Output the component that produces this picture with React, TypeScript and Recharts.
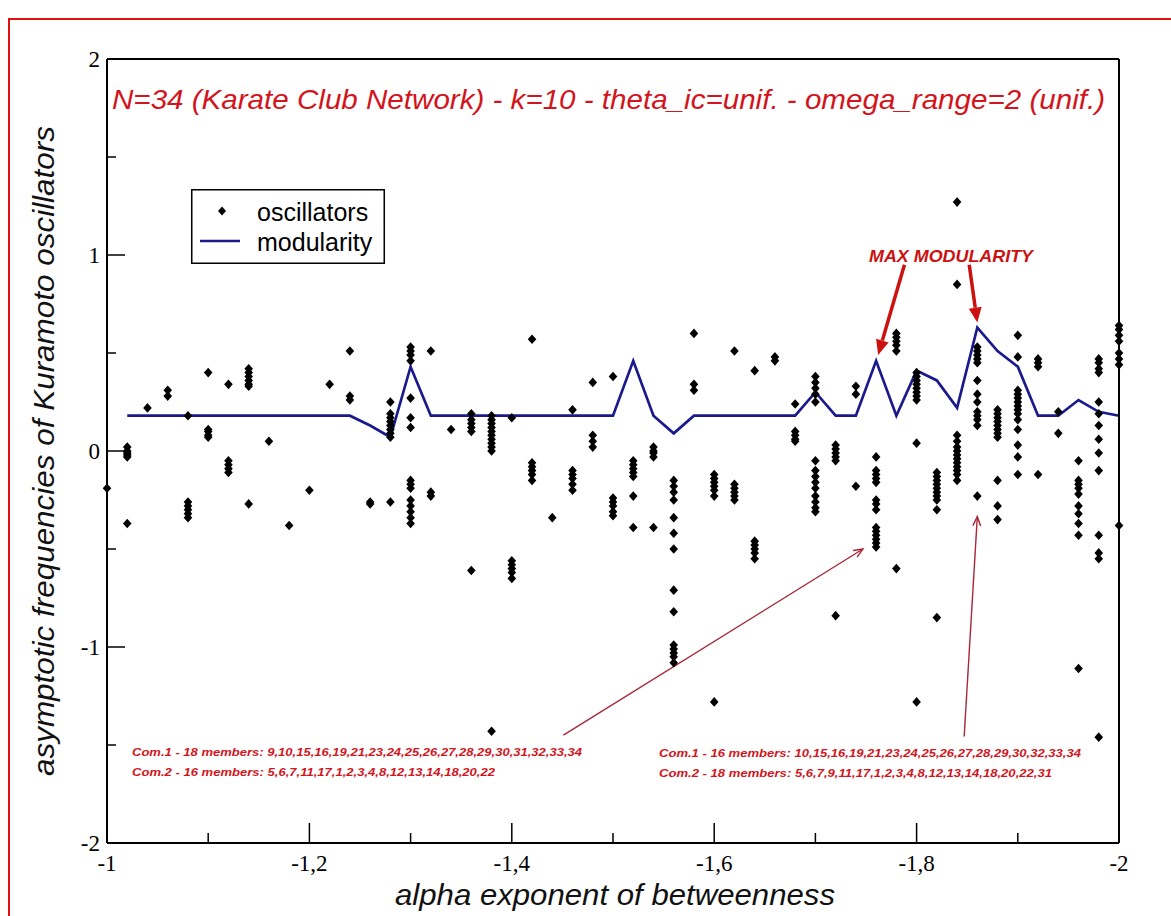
import React from "react";
import {
  ComposedChart,
  Scatter,
  Line,
  XAxis,
  YAxis,
  Legend,
  ReferenceLine,
} from "recharts";

// alpha exponent grid (one column of oscillators per step)
const alphaSteps = [
  -1, -1.02, -1.04, -1.06, -1.08, -1.1, -1.12, -1.14, -1.16, -1.18, -1.2, -1.22, -1.24,
  -1.26, -1.28, -1.3, -1.32, -1.34, -1.36, -1.38, -1.4, -1.42, -1.44, -1.46, -1.48, -1.5,
  -1.52, -1.54, -1.56, -1.58, -1.6, -1.62, -1.64, -1.66, -1.68, -1.7, -1.72, -1.74, -1.76,
  -1.78, -1.8, -1.82, -1.84, -1.86, -1.88, -1.9, -1.92, -1.94, -1.96, -1.98, -2,
];

const modularity: (number | null)[] = [
  null, 0.18, 0.18, 0.18, 0.18, 0.18, 0.18, 0.18, 0.18, 0.18, 0.18, 0.18, 0.18,
  0.13, 0.07, 0.43, 0.18, 0.18, 0.18, 0.18, 0.18, 0.18, 0.18, 0.18, 0.18, 0.18,
  0.46, 0.18, 0.09, 0.18, 0.18, 0.18, 0.18, 0.18, 0.18, 0.3, 0.18, 0.18, 0.46,
  0.18, 0.41, 0.36, 0.22, 0.63, 0.51, 0.43, 0.18, 0.18, 0.26, 0.2, 0.18,
];

// asymptotic frequencies read per alpha column
const oscillatorFreqs: number[][] = [
  [-0.19],
  [0.02, 0.0, -0.01, -0.02, -0.03, -0.37],
  [0.22],
  [0.31, 0.28],
  [0.18, -0.26, -0.28, -0.3, -0.32, -0.34],
  [0.4, 0.11, 0.1, 0.08, 0.07],
  [0.34, -0.05, -0.07, -0.09, -0.11],
  [0.42, 0.4, 0.38, 0.36, 0.34, 0.33, -0.27],
  [0.05],
  [-0.38],
  [-0.2],
  [0.34],
  [0.51, 0.28, 0.26],
  [-0.26, -0.27],
  [0.25, 0.19, 0.17, 0.15, 0.13, 0.11, 0.09, 0.07, -0.26],
  [0.53, 0.51, 0.49, 0.46, 0.27, 0.17, 0.12, -0.15, -0.17, -0.19, -0.25, -0.28, -0.31, -0.34, -0.37],
  [0.51, -0.21, -0.23],
  [0.11],
  [0.19, 0.16, 0.14, 0.12, 0.1, -0.61],
  [0.18, 0.16, 0.14, 0.12, 0.1, 0.08, 0.06, 0.04, 0.02, 0.0, -1.43],
  [0.17, -0.56, -0.58, -0.6, -0.62, -0.65],
  [0.57, -0.06, -0.08, -0.1, -0.12, -0.15],
  [-0.34],
  [0.21, -0.1, -0.12, -0.14, -0.17, -0.2],
  [0.35, 0.08, 0.05, 0.02],
  [0.38, -0.24, -0.26, -0.28, -0.31, -0.33],
  [-0.05, -0.07, -0.09, -0.11, -0.13, -0.23, -0.39],
  [0.02, 0.0, -0.01, -0.03, -0.39],
  [-0.15, -0.18, -0.21, -0.25, -0.34, -0.42, -0.5, -0.71, -0.82, -0.99, -1.01, -1.03, -1.05, -1.08],
  [0.6, 0.34, 0.31],
  [-0.12, -0.14, -0.16, -0.18, -0.2, -0.23, -1.28],
  [0.51, -0.17, -0.19, -0.21, -0.23, -0.25],
  [0.41, -0.46, -0.48, -0.5, -0.52, -0.55],
  [0.48, 0.46],
  [0.24, 0.1, 0.08, 0.06, 0.05],
  [0.38, 0.35, 0.32, 0.29, 0.25, -0.05, -0.1, -0.13, -0.16, -0.19, -0.23, -0.26, -0.29, -0.31],
  [0.03, 0.01, -0.01, -0.03, -0.05, -0.84],
  [0.33, 0.29, -0.18],
  [-0.03, -0.1, -0.12, -0.14, -0.16, -0.25, -0.27, -0.3, -0.39, -0.41, -0.43, -0.45, -0.47, -0.49],
  [0.6, 0.58, 0.56, 0.54, 0.51, -0.6],
  [0.4, 0.38, 0.36, 0.34, 0.32, 0.3, 0.28, 0.26, 0.04, -1.28],
  [-0.11, -0.13, -0.15, -0.17, -0.19, -0.21, -0.23, -0.25, -0.3, -0.85],
  [1.27, 0.85, 0.08, 0.05, 0.02, 0.0, -0.02, -0.04, -0.06, -0.08, -0.1, -0.12, -0.15],
  [0.53, 0.51, 0.49, 0.47, 0.45, 0.36, 0.29, 0.25, 0.2, 0.18, 0.16, 0.13, -0.23],
  [0.21, 0.19, 0.17, 0.15, 0.13, 0.11, 0.09, 0.07, -0.15, -0.28, -0.35],
  [0.59, 0.48, 0.31, 0.29, 0.27, 0.25, 0.23, 0.21, 0.19, 0.16, 0.11, 0.03, -0.03, -0.12],
  [0.47, 0.45, 0.43, -0.12],
  [0.2, 0.09],
  [-0.05, -0.15, -0.17, -0.19, -0.22, -0.28, -0.32, -0.37, -0.43, -1.11],
  [0.47, 0.45, 0.42, 0.4, 0.25, 0.19, 0.13, 0.06, -0.01, -0.1, -0.43, -0.52, -0.55, -1.46],
  [0.64, 0.62, 0.59, 0.56, 0.5, 0.47, 0.44, -0.38],
];

const xTicks = [-1, -1.1, -1.2, -1.3, -1.4, -1.5, -1.6, -1.7, -1.8, -1.9, -2];
const yTicks = [-2, -1.5, -1, -0.5, 0, 0.5, 1, 1.5, 2];

// annotation arrows, in data coordinates (start -> tip)
const maxArrows = [
  [{ x: -1.788, y: 0.95 }, { x: -1.762, y: 0.49 }],
  [{ x: -1.852, y: 0.95 }, { x: -1.86, y: 0.655 }],
];
const comArrows = [
  [{ x: -1.451, y: -1.45 }, { x: -1.747, y: -0.5 }],
  [{ x: -1.847, y: -1.457 }, { x: -1.86, y: -0.335 }],
];

const scatterData = alphaSteps.flatMap((a, i) => oscillatorFreqs[i].map((v) => ({ x: a, y: v })));
const lineData = alphaSteps.map((a, i) => ({ x: a, y: modularity[i] }));

const SANS = "'Liberation Sans', Arial, Helvetica, sans-serif";
const SERIF = "'Liberation Serif', 'Times New Roman', serif";
const RED = "#d3141c";
const NAVY = "#1a1a8c";

const diamondPath = (cx: number, cy: number, r: number) =>
  `M${cx},${cy - r - 0.5}L${cx + r},${cy}L${cx},${cy + r + 0.5}L${cx - r},${cy}Z`;

const Diamond = (props: any) => <path d={diamondPath(props.cx, props.cy, 4.3)} fill="#000" />;

const isMajorX = (v: number) => Math.round(Math.abs(v) * 10) % 2 === 0;
const fmt = (v: number) => String(v).replace(".", ",");

const BottomTick = ({ x, y, payload }: any) => {
  const major = isMajorX(payload.value);
  return (
    <g>
      <line x1={x} y1={y} x2={x} y2={y - (major ? 20 : 10)} stroke="#000" strokeWidth={1.5} />
      {major && (
        <text x={x} y={y + 28} textAnchor="middle" fontFamily={SERIF} fontSize={23} fill="#000">
          {fmt(payload.value)}
        </text>
      )}
    </g>
  );
};

const TopTick = ({ x, y, payload }: any) => {
  const major = isMajorX(payload.value);
  return <line x1={x} y1={y} x2={x} y2={y + (major ? 18 : 9)} stroke="#000" strokeWidth={1.5} />;
};

const LeftTick = ({ x, y, payload }: any) => {
  const major = Number.isInteger(payload.value);
  return (
    <g>
      <line x1={x} y1={y} x2={x + (major ? 18 : 9)} y2={y} stroke="#000" strokeWidth={1.5} />
      {major && (
        <text x={x - 7} y={y} dy="0.35em" textAnchor="end" fontFamily={SERIF} fontSize={23} fill="#000">
          {String(payload.value)}
        </text>
      )}
    </g>
  );
};

const RightTick = ({ x, y, payload }: any) => {
  const major = Number.isInteger(payload.value);
  return <line x1={x} y1={y} x2={x - (major ? 18 : 9)} y2={y} stroke="#000" strokeWidth={1.5} />;
};

const ThickArrow = ({ x1, y1, x2, y2 }: any) => {
  const a = Math.atan2(y2 - y1, x2 - x1);
  const c = Math.cos(a);
  const s = Math.sin(a);
  const bx = x2 - 15 * c;
  const by = y2 - 15 * s;
  return (
    <g>
      <line x1={x1} y1={y1} x2={bx} y2={by} stroke="#cc1111" strokeWidth={3.5} />
      <polygon
        points={`${x2},${y2} ${bx + 6.5 * s},${by - 6.5 * c} ${bx - 6.5 * s},${by + 6.5 * c}`}
        fill="#cc1111"
      />
    </g>
  );
};

const ThinArrow = ({ x1, y1, x2, y2 }: any) => {
  const a = Math.atan2(y2 - y1, x2 - x1);
  const h = 10;
  const p1 = [x2 - h * Math.cos(a - 0.4), y2 - h * Math.sin(a - 0.4)];
  const p2 = [x2 - h * Math.cos(a + 0.4), y2 - h * Math.sin(a + 0.4)];
  return (
    <g stroke="#a8283a" strokeWidth={1.4} fill="none">
      <line x1={x1} y1={y1} x2={x2} y2={y2} />
      <polyline points={`${p1[0]},${p1[1]} ${x2},${y2} ${p2[0]},${p2[1]}`} />
    </g>
  );
};

const LegendBox = ({ payload }: any) => {
  const items = [...(payload || [])].sort(
    (a: any, b: any) => (a.type === "line" ? 1 : 0) - (b.type === "line" ? 1 : 0)
  );
  return (
    <svg width={194} height={75} style={{ display: "block" }}>
      <rect x={0.75} y={0.75} width={192.5} height={73.5} fill="#fff" stroke="#000" strokeWidth={1.5} />
      {items.map((it: any, i: number) => {
        const cy = 22 + i * 30;
        return (
          <g key={i}>
            {it.type === "line" ? (
              <line x1={9} x2={49} y1={cy} y2={cy} stroke={NAVY} strokeWidth={2.5} />
            ) : (
              <path d={diamondPath(31, cy, 4)} fill="#000" />
            )}
            <text x={66} y={cy + 1} dy="0.35em" fontFamily={SANS} fontSize={25} fill="#000">
              {it.value}
            </text>
          </g>
        );
      })}
    </svg>
  );
};

const axisLine = { stroke: "#000", strokeWidth: 2 };

export default function App() {
  return (
    <div style={{ position: "relative", width: 1171, height: 916, overflow: "hidden", background: "#fff" }}>
      <style>{`body{margin:0;overflow:hidden;background:#fff}`}</style>
      <div
        style={{
          position: "absolute",
          left: 8,
          top: 18,
          width: 1300,
          height: 1000,
          borderLeft: "2px solid #e01010",
          borderTop: "2px solid #e01010",
        }}
      />
      <div style={{ position: "absolute", left: 0, top: 0 }}>
        <ComposedChart width={1171} height={916} margin={{ top: 58, right: 51, bottom: 43, left: 47 }}>
          <XAxis
            xAxisId="b"
            type="number"
            dataKey="x"
            domain={[-2, -1]}
            reversed
            ticks={xTicks}
            interval={0}
            height={30}
            tickSize={0}
            tickMargin={0}
            tickLine={false}
            tick={<BottomTick />}
            axisLine={axisLine}
          />
          <XAxis
            xAxisId="t"
            orientation="top"
            type="number"
            dataKey="x"
            domain={[-2, -1]}
            reversed
            ticks={xTicks}
            interval={0}
            height={1}
            tickSize={0}
            tickMargin={0}
            tickLine={false}
            tick={<TopTick />}
            axisLine={axisLine}
          />
          <YAxis
            yAxisId="l"
            type="number"
            domain={[-2, 2]}
            ticks={yTicks}
            interval={0}
            width={60}
            tickSize={0}
            tickMargin={0}
            tickLine={false}
            tick={<LeftTick />}
            axisLine={axisLine}
          />
          <YAxis
            yAxisId="r"
            orientation="right"
            type="number"
            domain={[-2, 2]}
            ticks={yTicks}
            interval={0}
            width={1}
            tickSize={0}
            tickMargin={0}
            tickLine={false}
            tick={<RightTick />}
            axisLine={axisLine}
          />
          <Legend
            layout="vertical"
            align="center"
            verticalAlign="middle"
            content={(p: any) => <LegendBox {...p} />}
            wrapperStyle={{ left: 191, top: 189, width: 194, height: 75 }}
          />
          <Line
            xAxisId="b"
            yAxisId="l"
            data={lineData}
            dataKey="y"
            name="modularity"
            type="linear"
            stroke={NAVY}
            strokeWidth={2.7}
            dot={false}
            activeDot={false}
            legendType="line"
            isAnimationActive={false}
          />
          <Scatter
            xAxisId="b"
            yAxisId="l"
            data={scatterData}
            dataKey="y"
            name="oscillators"
            fill="#000"
            shape={<Diamond />}
            legendType="diamond"
            isAnimationActive={false}
          />
          {maxArrows.map((seg, i) => (
            <ReferenceLine
              key={`m${i}`}
              xAxisId="b"
              yAxisId="l"
              segment={seg}
              ifOverflow="visible"
              shape={(p: any) => <ThickArrow {...p} />}
            />
          ))}
          {comArrows.map((seg, i) => (
            <ReferenceLine
              key={`c${i}`}
              xAxisId="b"
              yAxisId="l"
              segment={seg}
              ifOverflow="visible"
              shape={(p: any) => <ThinArrow {...p} />}
            />
          ))}
        </ComposedChart>
      </div>
      <svg
        width={1171}
        height={916}
        style={{ position: "absolute", left: 0, top: 0, pointerEvents: "none" }}
      >
        <text x={112} y={109} fontFamily={SANS} fontStyle="italic" fontSize={28} fill={RED} textLength={993} lengthAdjust="spacingAndGlyphs">
          N=34 (Karate Club Network) - k=10 - theta_ic=unif. - omega_range=2 (unif.)
        </text>
        <text x={869} y={262} fontFamily={SANS} fontStyle="italic" fontWeight="bold" fontSize={16.5} fill="#cc1111" textLength={164} lengthAdjust="spacingAndGlyphs">
          MAX MODULARITY
        </text>
        <g fontFamily={SANS} fontStyle="italic" fontWeight="bold" fontSize={11.5} fill={RED}>
          <text x={132} y={756} textLength={450} lengthAdjust="spacingAndGlyphs">
            Com.1 - 18 members: 9,10,15,16,19,21,23,24,25,26,27,28,29,30,31,32,33,34
          </text>
          <text x={132} y={776} textLength={363} lengthAdjust="spacingAndGlyphs">
            Com.2 - 16 members: 5,6,7,11,17,1,2,3,4,8,12,13,14,18,20,22
          </text>
          <text x={659} y={757} textLength={422} lengthAdjust="spacingAndGlyphs">
            Com.1 - 16 members: 10,15,16,19,21,23,24,25,26,27,28,29,30,32,33,34
          </text>
          <text x={659} y={777} textLength={393} lengthAdjust="spacingAndGlyphs">
            Com.2 - 18 members: 5,6,7,9,11,17,1,2,3,4,8,12,13,14,18,20,22,31
          </text>
        </g>
        <text x={395} y={905} fontFamily={SANS} fontStyle="italic" fontSize={30} fill="#111" textLength={440} lengthAdjust="spacingAndGlyphs">
          alpha exponent of betweenness
        </text>
        <text
          x={54}
          y={451}
          transform="rotate(-90 54 451)"
          textAnchor="middle"
          fontFamily={SANS}
          fontStyle="italic"
          fontSize={30}
          fill="#111"
          textLength={650}
          lengthAdjust="spacingAndGlyphs"
        >
          asymptotic frequencies of Kuramoto oscillators
        </text>
      </svg>
    </div>
  );
}
